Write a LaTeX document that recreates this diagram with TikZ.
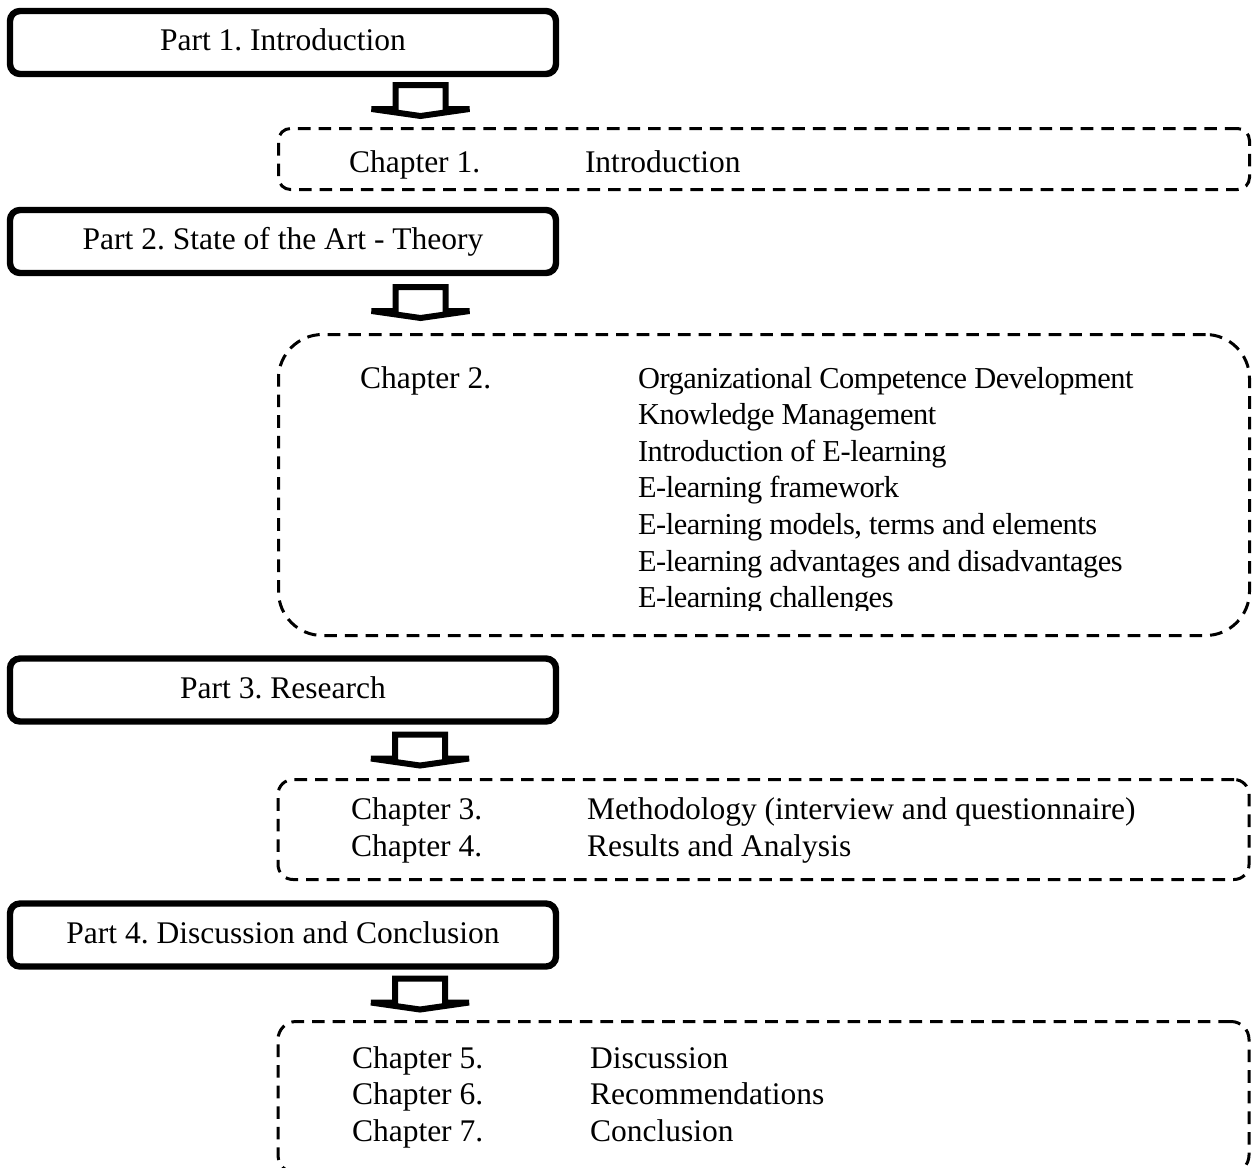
\documentclass[tikz,border=0pt]{standalone}
\usepackage{fontspec}
\setmainfont{Liberation Serif}
\usetikzlibrary{calc}
\frenchspacing
\begin{document}
\begin{tikzpicture}[x=0.5pt,y=-0.5pt,
  font=\fontsize{15.75pt}{18.3pt}\selectfont,
  partbox/.style={draw, line width=3.2pt, rounded corners=5pt, inner sep=0pt, outer sep=0pt,
    minimum width=273pt, minimum height=31.5pt, text height=0.8em, text depth=0pt},
  chapbox/.style={draw, line width=1.5pt, dash pattern=on 6.3pt off 4pt, inner sep=0pt, outer sep=0pt,
    minimum width=485.5pt},
  txt/.style={anchor=base west, inner sep=0pt, outer sep=0pt},
  tight/.style={txt, font=\fontsize{15.2pt}{18.3pt}\selectfont\addfontfeature{LetterSpace=-1.5}},
  barrow/.pic={\draw[line width=3pt, miter limit=10]
    (-25,0) -- (25,0) -- (25,24) -- (49,24) -- (0,31) -- (-49,24) -- (-25,24) -- cycle;}
]
\useasboundingbox (0,0) rectangle (1257,1167);
\clip (0,0) rectangle (1257,1167);

% Part boxes
\node[partbox] (p1) at (283,42.5) {Part 1. Introduction};
\node[partbox] (p2) at (283,241.5) {Part 2. State of the Art - Theory};
\node[partbox] (p3) at (283,690) {Part 3. Research};
\node[partbox] (p4) at (283,935) {Part 4. Discussion and Conclusion};

% Chapter boxes
\node[chapbox, rounded corners=6pt, minimum height=30.5pt] (b1) at (764,159) {};
\node[chapbox, rounded corners=22pt, minimum height=150.5pt] (b2) at (764,485) {};
\node[chapbox, rounded corners=7.5pt, minimum height=50pt] (b3) at (763.5,829.5) {};
\node[chapbox, rounded corners=9pt, minimum height=75.75pt] (b4) at (763.5,1097.25) {};

% Block arrows
\pic (a1) at ($(p1.south -| b1.west)+(142,11)$) {barrow};
\pic (a2) at ($(p2.south -| b2.west)+(142,14)$) {barrow};
\pic (a3) at ($(p3.south -| b3.west)+(142,13)$) {barrow};
\pic (a4) at ($(p4.south -| b4.west)+(142,12)$) {barrow};

% Chapter 1
\node[txt] (c1) at (349,172) {Chapter 1.};
\node[txt] (c1t) at (585,172) {Introduction};

% Chapter 2
\node[txt] (c2) at (360,388) {Chapter 2.};
\node[tight] (c2a) at (638,388) {Organizational Competence Development};
\node[tight] (c2b) at (638,424.6) {Knowledge Management};
\node[tight] (c2c) at (638,461.2) {Introduction of E-learning};
\node[tight] (c2d) at (638,497.8) {E-learning framework};
\node[tight] (c2e) at (638,534.4) {E-learning models, terms and elements};
\node[tight] (c2f) at (638,571) {E-learning advantages and disadvantages};
\begin{scope}
\clip (600,560) rectangle (1200,610);
\node[tight] (c2g) at (638,607.6) {E-learning challenges};
\end{scope}

% Chapters 3-4
\node[txt] (c3) at (351,819) {Chapter 3.};
\node[txt] (c3t) at (587,819) {Methodology (interview and questionnaire)};
\node[txt] (c4) at (351,856) {Chapter 4.};
\node[txt] (c4t) at (587,856) {Results and Analysis};

% Chapters 5-7
\node[txt] (c5) at (352,1068) {Chapter 5.};
\node[txt] (c5t) at (590,1068) {Discussion};
\node[txt] (c6) at (352,1104.6) {Chapter 6.};
\node[txt] (c6t) at (590,1104.6) {Recommendations};
\node[txt] (c7) at (352,1141.2) {Chapter 7.};
\node[txt] (c7t) at (590,1141.2) {Conclusion};
\end{tikzpicture}
\end{document}
